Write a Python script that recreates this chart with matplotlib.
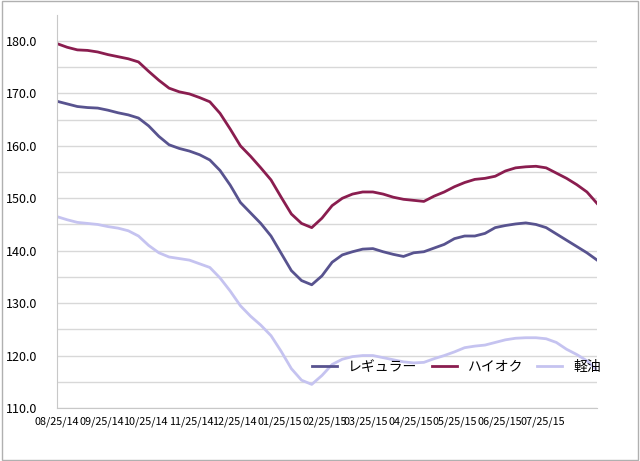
import matplotlib
matplotlib.use("Agg")
import matplotlib.pyplot as plt
import matplotlib.dates as mdates
import pandas as pd

plt.rcParams["font.family"] = ["Noto Sans CJK JP", "DejaVu Sans"]

regular = [168.5, 168.0, 167.5, 167.3, 167.2, 166.8, 166.3, 165.9, 165.3, 163.8,
           161.8, 160.2, 159.5, 159.0, 158.3, 157.3, 155.3, 152.5, 149.2, 147.2,
           145.2, 142.8, 139.5, 136.2, 134.3, 133.5, 135.2, 137.8, 139.2, 139.8,
           140.3, 140.4, 139.8, 139.3, 138.9, 139.6, 139.8, 140.5, 141.2, 142.3,
           142.8, 142.8, 143.3, 144.4, 144.8, 145.1, 145.3, 145.0, 144.4, 143.2,
           142.0, 140.8, 139.6, 138.2]
highoc = [179.5, 178.8, 178.3, 178.2, 177.9, 177.4, 177.0, 176.6, 176.0, 174.2,
          172.5, 171.0, 170.3, 169.9, 169.2, 168.4, 166.2, 163.2, 160.0, 158.0,
          155.8, 153.5, 150.2, 147.0, 145.2, 144.4, 146.2, 148.6, 150.0, 150.8,
          151.2, 151.2, 150.8, 150.2, 149.8, 149.6, 149.4, 150.4, 151.2, 152.2,
          153.0, 153.6, 153.8, 154.2, 155.2, 155.8, 156.0, 156.1, 155.8, 154.8,
          153.8, 152.6, 151.2, 149.0]
diesel = [146.5, 145.9, 145.4, 145.2, 145.0, 144.6, 144.3, 143.8, 142.8, 141.0,
          139.6, 138.8, 138.5, 138.2, 137.5, 136.8, 134.8, 132.3, 129.5, 127.5,
          125.8, 123.8, 120.8, 117.5, 115.3, 114.5, 116.2, 118.3, 119.3, 119.8,
          120.0, 120.0, 119.6, 119.2, 118.8, 118.6, 118.7, 119.4, 120.0, 120.7,
          121.5, 121.8, 122.0, 122.5, 123.0, 123.3, 123.4, 123.4, 123.2, 122.5,
          121.2, 120.2, 119.0, 117.2]
dates = pd.date_range("2014-08-25", periods=len(regular), freq="7D")
tick_dates = pd.to_datetime(["2014-08-25", "2014-09-25", "2014-10-25", "2014-11-25",
                             "2014-12-25", "2015-01-25", "2015-02-25", "2015-03-25",
                             "2015-04-25", "2015-05-25", "2015-06-25", "2015-07-25"])

fig = plt.figure(figsize=(6.4, 4.61), dpi=100)
fig.patches.append(plt.Rectangle((0.003, 0.003), 0.994, 0.994, transform=fig.transFigure,
                                 fill=False, edgecolor="#b0b0b0", linewidth=1))
ax = fig.add_axes([0.089, 0.115, 0.844, 0.853])
ax.plot(dates, regular, color="#58538f", linewidth=2, label="レギュラー")
ax.plot(dates, highoc, color="#8a1d4f", linewidth=2, label="ハイオク")
ax.plot(dates, diesel, color="#c5c3f0", linewidth=2, label="軽油")

ax.set_xlim(dates[0], dates[-1])
ax.set_ylim(110, 185)
ax.set_yticks(range(110, 185, 5))
ax.set_yticklabels([f"{v:.1f}" if v % 10 == 0 else "" for v in range(110, 185, 5)], fontsize=9)
ax.set_xticks(tick_dates)
ax.xaxis.set_major_formatter(mdates.DateFormatter("%m/%d/%y"))
ax.tick_params(axis="x", labelsize=7.8, length=0, pad=6)
ax.tick_params(axis="y", length=0, pad=14)
ax.grid(axis="y", color="#d8d8d8", linewidth=1)
for s in ["top", "right"]:
    ax.spines[s].set_visible(False)
ax.spines["left"].set_color("#c8c8c8")
ax.spines["bottom"].set_color("#c8c8c8")
ax.legend(loc="center", bbox_to_anchor=(0.74, 0.105), ncol=3, frameon=False,
          fontsize=10, handlelength=1.8, columnspacing=1.0)
fig.savefig("out.png", dpi=100)
